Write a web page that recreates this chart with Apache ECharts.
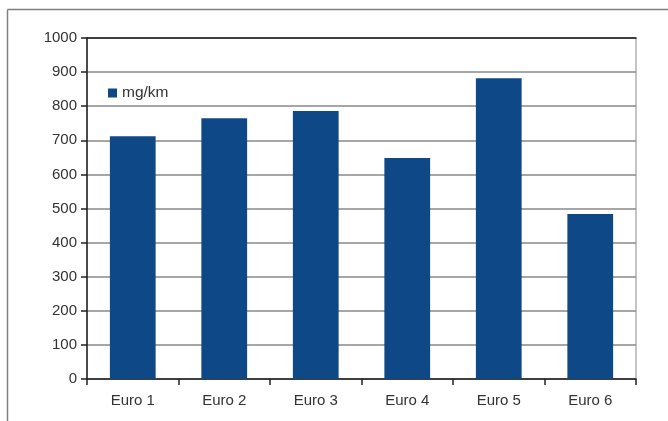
<!DOCTYPE html>
<html>
<head>
<meta charset="utf-8">
<script src="https://cdn.jsdelivr.net/npm/echarts@6/dist/echarts.min.js"></script>
<style>
  html, body { margin: 0; padding: 0; background: #fff; }
  #chart { width: 668px; height: 421px; }
</style>
</head>
<body>
<div id="chart"></div>
<script>
// Emission limits per Euro standard
const categories = ['Euro 1', 'Euro 2', 'Euro 3', 'Euro 4', 'Euro 5', 'Euro 6'];
const seriesName = 'mg/km';
const values = [712, 765, 786, 648, 882, 484];
const yTicks = { min: 0, max: 1000, interval: 100 };

const chart = echarts.init(document.getElementById('chart'), null, { renderer: 'canvas' });

const font = 'Liberation Sans, Arial, sans-serif';

chart.setOption({
  animation: false,
  backgroundColor: '#ffffff',
  graphic: [
    // outer frame (left and top edges visible)
    { type: 'line', shape: { x1: 7.5, y1: 9.5, x2: 7.5, y2: 421 }, style: { stroke: '#808080', lineWidth: 1.5 } },
    { type: 'line', shape: { x1: 7.5, y1: 9.5, x2: 668, y2: 9.5 }, style: { stroke: '#808080', lineWidth: 1.5 } }
  ],
  legend: {
    left: 108,
    top: 85,
    padding: 0,
    itemWidth: 9,
    itemHeight: 9,
    itemGap: 5,
    icon: 'rect',
    textStyle: { fontFamily: font, fontSize: 15.5, color: '#333', padding: [0, 0, 0, 0] },
    data: [seriesName]
  },
  grid: {
    left: 87,
    top: 38,
    right: 32,
    bottom: 42,
    show: true,
    borderColor: '#8a8a8a',
    borderWidth: 1
  },
  xAxis: [
    {
      type: 'category',
      data: categories,
      boundaryGap: true,
      axisLine: { show: true, lineStyle: { color: '#222', width: 1.5 } },
      axisTick: { show: true, length: 6, lineStyle: { color: '#222', width: 1.5 } },
      axisLabel: { margin: 14, fontFamily: font, fontSize: 15, color: '#333' }
    },
    {
      type: 'category',
      position: 'top',
      data: categories,
      axisLine: { show: true, lineStyle: { color: '#222', width: 1.5 } },
      axisTick: { show: false },
      axisLabel: { show: false }
    }
  ],
  yAxis: {
    type: 'value',
    min: yTicks.min,
    max: yTicks.max,
    interval: yTicks.interval,
    axisLine: { show: true, lineStyle: { color: '#222', width: 1.5 } },
    axisTick: { show: true, length: 6, lineStyle: { color: '#222', width: 1.5 } },
    axisLabel: { margin: 10, fontFamily: font, fontSize: 15, color: '#333', formatter: (v) => String(v) },
    splitLine: { show: true, lineStyle: { color: '#888', width: 1.5 } }
  },
  series: [
    {
      name: seriesName,
      type: 'bar',
      data: values,
      barWidth: '50%',
      itemStyle: { color: '#0e4886' }
    }
  ]
});
</script>
</body>
</html>
